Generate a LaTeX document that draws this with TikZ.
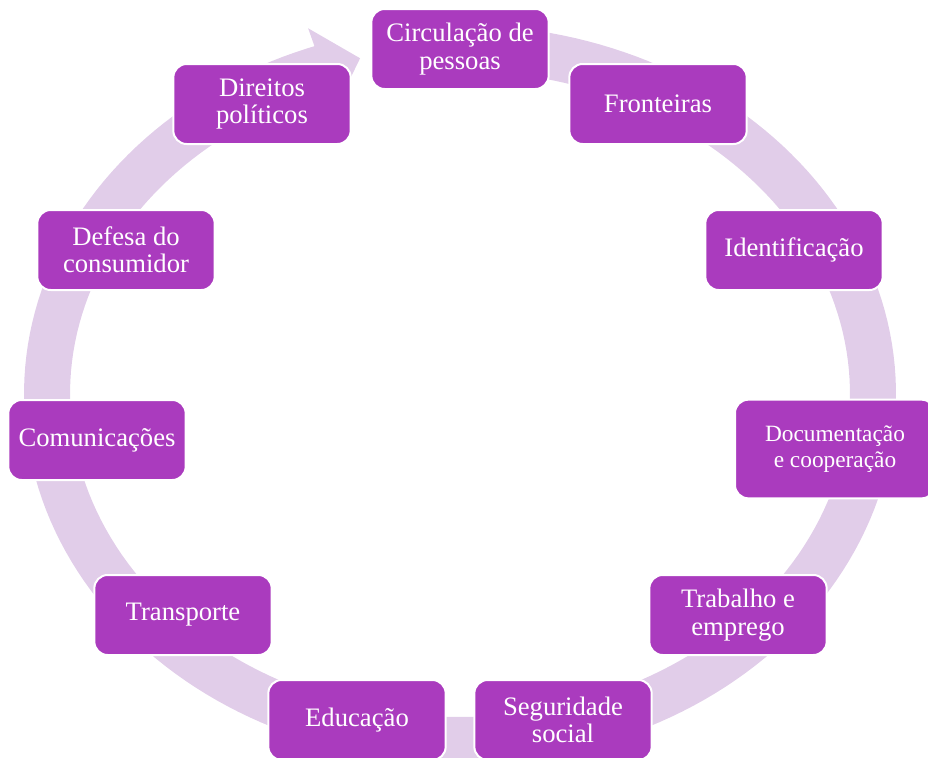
\documentclass[tikz,border=0pt]{standalone}
\usepackage{tikz}
\usepackage{fontspec}
\setmainfont{Liberation Serif}
\definecolor{sa_purple}{RGB}{170, 59, 190}
\definecolor{sa_lav}{RGB}{225, 205, 233}
\tikzstyle{box}=[rectangle,rounded corners=10pt,fill=sa_purple,draw=white,
  line width=1.5pt,minimum width=133pt,minimum height=60pt,text=white,
  align=center,font=\fontsize{20}{20.5}\selectfont]
\tikzstyle{widebox}=[box,minimum width=150pt,minimum height=74pt,
  font=\fontsize{17.5}{19}\selectfont]
\tikzstyle{ring}=[draw=sa_lav,line width=34.5pt]
\begin{document}
\begin{tikzpicture}[x=0.75pt, y=-0.75pt]
    \useasboundingbox (0, 0) rectangle (928, 757);
    % ring with arrow head
    \draw [style=ring] plot [domain=-90:251, samples=200]
        ({460+413*cos(\x)}, {394+346*sin(\x)});
    \fill [sa_lav] ({460+455*cos(250.5)}, {394+388*sin(250.5)})
        -- ({460+413*cos(256)}, {394+346*sin(256)})
        -- ({460+371*cos(250.5)}, {394+304*sin(250.5)}) -- cycle;
    % boxes
    \node [style=box] (0) at (460, 49) {Circulação de\\pessoas};
    \node [style=box] (1) at (658, 104) {Fronteiras};
    \node [style=box] (2) at (794, 250) {Identificação};
    \node [style=widebox] (3) at (835, 449) {Documentação\\e cooperação};
    \node [style=box] (4) at (738, 615) {Trabalho e\\emprego};
    \node [style=box] (5) at (563, 720) {Seguridade\\social};
    \node [style=box] (6) at (357, 720) {Educação};
    \node [style=box] (7) at (183, 615) {Transporte};
    \node [style=box] (8) at (97, 440) {Comunicações};
    \node [style=box] (9) at (126, 250) {Defesa do\\consumidor};
    \node [style=box] (10) at (262, 104) {Direitos\\políticos};
\end{tikzpicture}
\end{document}
